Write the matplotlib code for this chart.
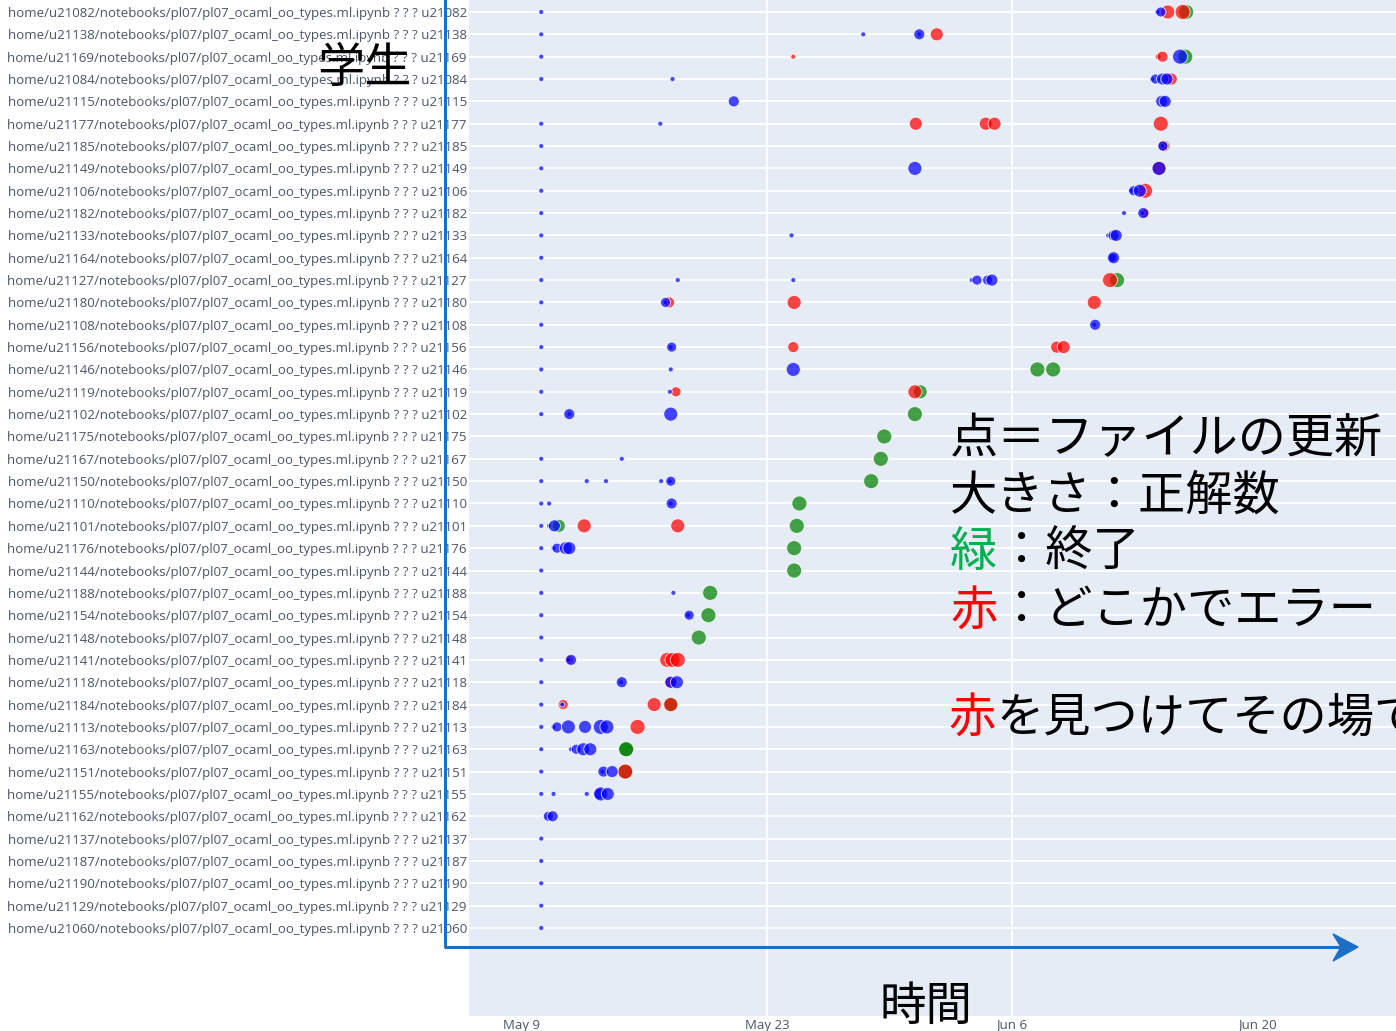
import matplotlib
matplotlib.use("Agg")
import matplotlib.pyplot as plt
import numpy as np
import pandas as pd

# students, top row first
students = ["u21082", "u21138", "u21169", "u21084", "u21115", "u21177", "u21185",
            "u21149", "u21106", "u21182", "u21133", "u21164", "u21127", "u21180",
            "u21108", "u21156", "u21146", "u21119", "u21102", "u21175", "u21167",
            "u21150", "u21110", "u21101", "u21176", "u21144", "u21188", "u21154",
            "u21148", "u21141", "u21118", "u21184", "u21113", "u21163", "u21151",
            "u21155", "u21162", "u21137", "u21187", "u21190", "u21129", "u21060"]

# file updates: row of student, days since May 9, number of correct answers, status
# status: b = in progress, r = error somewhere, g = finished
ev_row = [0, 0, 0, 0, 0, 0,
          1, 1, 1, 1, 1,
          2, 2, 2, 2, 2, 2,
          3, 3, 3, 3, 3, 3, 3,
          4, 4, 4,
          5, 5, 5, 5, 5, 5,
          6, 6, 6, 6, 6,
          7, 7, 7, 7,
          8, 8, 8, 8, 8,
          9, 9, 9, 9, 9,
          10, 10, 10, 10, 10,
          11, 11, 11, 11,
          12, 12, 12, 12, 12, 12, 12, 12, 12,
          13, 13, 13, 13, 13, 13,
          14, 14, 14,
          15, 15, 15, 15, 15, 15,
          16, 16, 16, 16, 16,
          17, 17, 17, 17, 17,
          18, 18, 18, 18, 18,
          19,
          20, 20, 20,
          21, 21, 21, 21, 21, 21, 21,
          22, 22, 22, 22, 22,
          23, 23, 23, 23, 23, 23, 23,
          24, 24, 24, 24, 24, 24,
          25, 25,
          26, 26, 26,
          27, 27, 27, 27,
          28, 28,
          29, 29, 29, 29, 29, 29, 29,
          30, 30, 30, 30, 30, 30,
          31, 31, 31, 31, 31, 31,
          32, 32, 32, 32, 32, 32, 32, 32,
          33, 33, 33, 33, 33, 33, 33,
          34, 34, 34, 34, 34, 34,
          35, 35, 35, 35, 35, 35,
          36, 36, 36,
          37, 38, 39, 40, 41]
ev_day = [1.1, 36.3, 36.5, 36.9, 37.95, 37.75,
          1.1, 19.5, 22.7, 22.7, 23.7,
          1.1, 15.5, 36.35, 36.6, 37.9, 37.6,
          1.1, 8.6, 36.0, 36.2, 36.6, 36.85, 37.1,
          12.1, 36.55, 36.75,
          1.1, 7.9, 22.5, 26.5, 27.0, 36.5,
          1.1, 36.6, 36.62, 36.7, 36.66,
          1.1, 22.45, 36.4, 36.4,
          1.1, 34.8, 34.95, 35.3, 35.6,
          1.1, 34.4, 35.45, 35.5, 35.6,
          1.1, 15.4, 33.5, 33.8, 33.95,
          1.1, 33.75, 33.75, 33.8,
          1.1, 8.9, 15.5, 25.7, 26.0, 26.6, 26.85, 33.6, 34.0,
          1.1, 8.2, 8.2, 8.4, 15.55, 32.7,
          1.1, 32.7, 32.75,
          1.1, 8.5, 8.55, 15.5, 30.55, 30.95,
          1.1, 8.5, 15.5, 29.45, 30.35,
          1.1, 8.45, 8.8, 22.45, 22.75,
          1.1, 2.7, 2.7, 8.5, 22.45,
          20.7,
          1.1, 5.7, 20.5,
          1.1, 3.7, 4.8, 7.95, 8.45, 8.5, 19.95,
          1.1, 1.55, 8.5, 8.55, 15.85,
          1.1, 1.55, 1.85, 2.1, 3.55, 8.9, 15.7,
          1.1, 1.8, 2.0, 2.5, 2.7, 15.55,
          1.1, 15.55,
          1.1, 8.65, 10.75,
          1.1, 9.5, 9.55, 10.65,
          1.1, 10.1,
          1.1, 2.65, 2.7, 2.8, 8.3, 8.6, 8.9,
          1.1, 5.65, 5.7, 8.5, 8.5, 8.85,
          1.1, 2.3, 2.35, 7.55, 8.5, 8.5,
          1.1, 1.8, 2.0, 2.65, 3.6, 4.5, 4.85, 6.6,
          1.1, 2.8, 3.1, 3.5, 3.9, 5.95, 5.95,
          1.1, 4.6, 4.65, 5.15, 5.9, 5.9,
          1.1, 1.8, 3.7, 4.4, 4.5, 4.9,
          1.45, 1.5, 1.75,
          1.1, 1.1, 1.1, 1.1, 1.1]
ev_score = [0, 0, 5, 9, 10, 10,
            0, 0, 0, 6, 8,
            0, 0, 1, 6, 10, 10,
            0, 0, 0, 5, 7, 7, 7,
            6, 7, 7,
            0, 0, 8, 8, 8, 10,
            0, 0, 5, 7, 6,
            0, 9, 9, 9,
            0, 0, 5, 8, 10,
            0, 0, 0, 6, 4,
            0, 0, 0, 6, 7,
            0, 0, 4, 7,
            0, 0, 0, 0, 5, 5, 7, 10, 10,
            0, 0, 5, 6, 9, 9,
            0, 0, 6,
            0, 0, 5, 6, 7, 8,
            0, 0, 9, 10, 10,
            0, 0, 5, 9, 9,
            0, 0, 6, 9, 10,
            10,
            0, 0, 10,
            0, 0, 0, 0, 0, 5, 10,
            0, 0, 0, 6, 10,
            0, 0, 7, 8, 9, 9, 10,
            0, 0, 5, 8, 8, 10,
            0, 10,
            0, 0, 10,
            0, 0, 5, 10,
            0, 10,
            0, 0, 4, 6, 10, 10, 10,
            0, 0, 6, 7, 7, 8,
            0, 0, 5, 9, 10, 9,
            0, 0, 5, 9, 8, 10, 9, 10,
            0, 0, 5, 8, 8, 10, 10,
            0, 0, 6, 7, 10, 10,
            0, 0, 0, 6, 9, 8,
            0, 5, 6,
            0, 0, 0, 0, 0]
ev_status = list("bbbrgr"
                 "bbbbr"
                 "brrrgb"
                 "bbbbbbr"
                 "bbb"
                 "bbrrrr"
                 "bbbgr"
                 "bbrb"
                 "bbbbr"
                 "bbbbr"
                 "bbbbb"
                 "bbbb"
                 "bbbbbbbrg"
                 "bbbrrr"
                 "bbb"
                 "bbbrrr"
                 "bbbgg"
                 "bbrrg"
                 "bbbbg"
                 "g"
                 "bbg"
                 "bbbbbbg"
                 "bbbbg"
                 "bbbgrrg"
                 "bbbbbg"
                 "bg"
                 "bbg"
                 "bbbg"
                 "bg"
                 "bbrbrrr"
                 "bbbrbb"
                 "bbrrgr"
                 "bbbbbbbr"
                 "bbbbbgg"
                 "bbbbgr"
                 "bbbbbb"
                 "bbb"
                 "bbbbb")

tick_dates = ["2021-05-09", "2021-05-23", "2021-06-06", "2021-06-20"]
tick_labels = ["May 9", "May 23", "Jun 6", "Jun 20"]
grid_dates = ["2021-05-23", "2021-06-06"]

start = pd.Timestamp("2021-05-09")
status_colors = {"g": "#008000", "r": "#ff0000", "b": "#0000ff"}

fig = plt.figure(figsize=(13.96, 10.31), dpi=100)
W, H = 1396, 1031
ax = fig.add_axes([469 / W, 15 / H, (W - 469) / W, 1016 / H])
ax.set_facecolor("#e5ecf6")
for s in ax.spines.values():
    s.set_visible(False)

# horizontal row grid + a couple of vertical date lines
for i in range(len(students)):
    ax.axhline(i, color="white", lw=1.3, zorder=0)
for d in grid_dates:
    ax.axvline(pd.Timestamp(d), color="white", lw=1.3, zorder=0)

ev = pd.DataFrame({"row": ev_row, "day": ev_day, "score": ev_score, "status": ev_status})
ev["time"] = start + pd.to_timedelta(ev["day"], unit="D")
ev["diam"] = 5 + ev["score"]  # px
for st in ["g", "r", "b"]:
    sub = ev[ev["status"] == st]
    ax.scatter(sub["time"], sub["row"], s=(0.72 * sub["diam"]) ** 2,
               color=status_colors[st], alpha=0.72, edgecolors="white",
               linewidths=0.7, zorder=3)

ax.set_xlim(start + pd.Timedelta(days=-3.03), start + pd.Timedelta(days=49.94))
ax.set_ylim(44.94, -0.537)
ax.set_yticks(range(len(students)))
ax.set_yticklabels([f"home/{u}/notebooks/pl07/pl07_ocaml_oo_types.ml.ipynb ? ? ? {u}"
                    for u in students])
ax.set_xticks(pd.to_datetime(tick_dates))
ax.set_xticklabels(tick_labels)
ax.tick_params(length=0, labelsize=9.5, labelcolor="#4a5568", pad=1.5)
for lab in ax.get_xticklabels() + ax.get_yticklabels():
    lab.set_family("Open Sans")
ax.tick_params(axis="x", pad=1.8)

# overlay for hand drawn notes, pixel coordinates
ov = fig.add_axes([0, 0, 1, 1], zorder=5)
ov.set_xlim(0, W)
ov.set_ylim(H, 0)
ov.axis("off")
ov.patch.set_alpha(0)

blue = "#1a70c8"
ov.plot([445, 445], [947, -5], color=blue, lw=2.2, solid_capstyle="butt")
ov.plot([444, 1342], [947, 947], color=blue, lw=2.2, solid_capstyle="butt")
ov.add_patch(plt.Polygon([[1358, 947], [1333, 934], [1341, 947], [1333, 961]],
                         closed=True, color=blue))

jp = ["Noto Sans CJK JP", "DejaVu Sans"]
ov.text(364, 69, "学生", fontsize=34, family=jp, ha="center", va="center")
ov.text(926, 1007, "時間", fontsize=33.5, family=jp, ha="center", va="center")

em = 48
ov.text(950, 439, "点＝ファイルの更新", fontsize=34.7, family=jp, va="center")
ov.text(950, 496, "大きさ：正解数", fontsize=34, family=jp, va="center")
ov.text(950, 553, "緑", fontsize=34, family=jp, va="center", color="#00b050")
ov.text(950 + em, 553, "：終了", fontsize=34, family=jp, va="center")
ov.text(950, 611, "赤", fontsize=34, family=jp, va="center", color="#ff0000")
ov.text(950 + em, 611, "：どこかでエラー", fontsize=34, family=jp, va="center")
ov.text(948, 718, "赤", fontsize=34, family=jp, va="center", color="#ff0000")
ov.text(948 + em, 718, "を見つけてその場で指導", fontsize=34, family=jp, va="center")

fig.savefig("out.png", dpi=100)
